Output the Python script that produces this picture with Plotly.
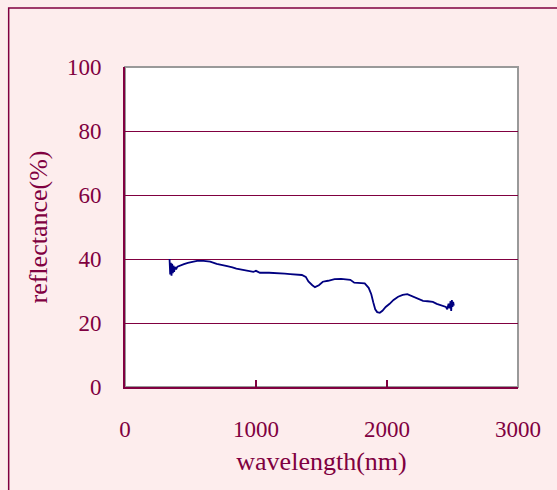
import plotly.graph_objects as go

wavelength = [340, 345, 350, 355, 360, 365, 370, 375, 380, 390, 400, 420, 450, 480, 500, 550, 600, 650, 700, 750, 780, 820, 850, 900, 940, 980, 1000, 1030, 1100, 1200, 1220, 1260, 1300, 1350, 1380, 1400, 1430, 1450, 1480, 1510, 1550, 1600, 1650, 1700, 1720, 1750, 1800, 1830, 1860, 1880, 1895, 1910, 1925, 1945, 1965, 1990, 2020, 2050, 2085, 2120, 2155, 2190, 2230, 2275, 2310, 2350, 2380, 2405, 2430, 2450, 2460, 2470, 2478, 2485, 2490, 2495, 2500, 2505, 2510]
reflectance = [40.0, 35.2, 38.8, 34.8, 38.5, 35.6, 37.9, 36.0, 37.5, 36.8, 37.6, 38.0, 38.4, 38.8, 39.0, 39.4, 39.4, 39.2, 38.5, 38.2, 37.8, 37.4, 37.0, 36.6, 36.3, 36.0, 36.3, 35.7, 35.7, 35.6, 35.4, 35.3, 35.2, 35.0, 34.4, 33.0, 31.8, 31.2, 31.8, 32.9, 33.2, 33.7, 33.8, 33.7, 33.5, 32.6, 32.6, 32.4, 31.0, 29.0, 26.5, 24.3, 23.4, 23.2, 23.8, 25.0, 26.0, 27.2, 28.2, 28.8, 29.0, 28.4, 27.8, 26.9, 26.8, 26.6, 26.0, 25.6, 25.3, 25.0, 24.3, 26.0, 24.6, 26.8, 23.8, 27.2, 25.0, 26.6, 25.4]

x_ticks = [0, 1000, 2000, 3000]
y_ticks = [0, 20, 40, 60, 80, 100]

maroon = "#800040"
font = dict(family="Liberation Serif, Times New Roman, serif", size=23, color=maroon)
title_font = dict(family="Liberation Serif, Times New Roman, serif", size=26, color=maroon)

fig = go.Figure()
fig.add_trace(go.Scatter(x=wavelength, y=reflectance, mode="lines",
                         line=dict(color="#000080", width=1.8), showlegend=False))

fig.update_layout(
    width=557, height=490,
    margin=dict(l=124.5, r=39, t=67, b=103),
    paper_bgcolor="#FDEDED", plot_bgcolor="white",
    font=font,
    xaxis=dict(range=[0, 3000], tickvals=x_ticks, showgrid=False, zeroline=False,
               showline=True, linecolor=maroon, linewidth=2,
               ticks="inside", ticklen=7, tickcolor=maroon, tickwidth=2,
               ticklabelstandoff=20, tickfont=font,
               title=dict(text="wavelength(nm)", font=title_font, standoff=11)),
    yaxis=dict(range=[0, 100], tickvals=y_ticks, showgrid=True, gridcolor=maroon,
               gridwidth=1, zeroline=False,
               showline=True, linecolor=maroon, linewidth=2,
               ticks="", ticklabelstandoff=17, tickfont=font,
               title=dict(text="reflectance(%)", font=title_font, standoff=12)),
    shapes=[
        dict(type="rect", xref="paper", yref="paper", x0=0, x1=1, y0=0, y1=1,
             line=dict(color="#999999", width=2), layer="below"),
        dict(type="rect", xref="paper", yref="paper", x0=-0.296, x1=1.5, y0=-0.6, y1=1.184,
             line=dict(color=maroon, width=1.5), layer="below"),
    ],
)

fig.write_html("out.html")
